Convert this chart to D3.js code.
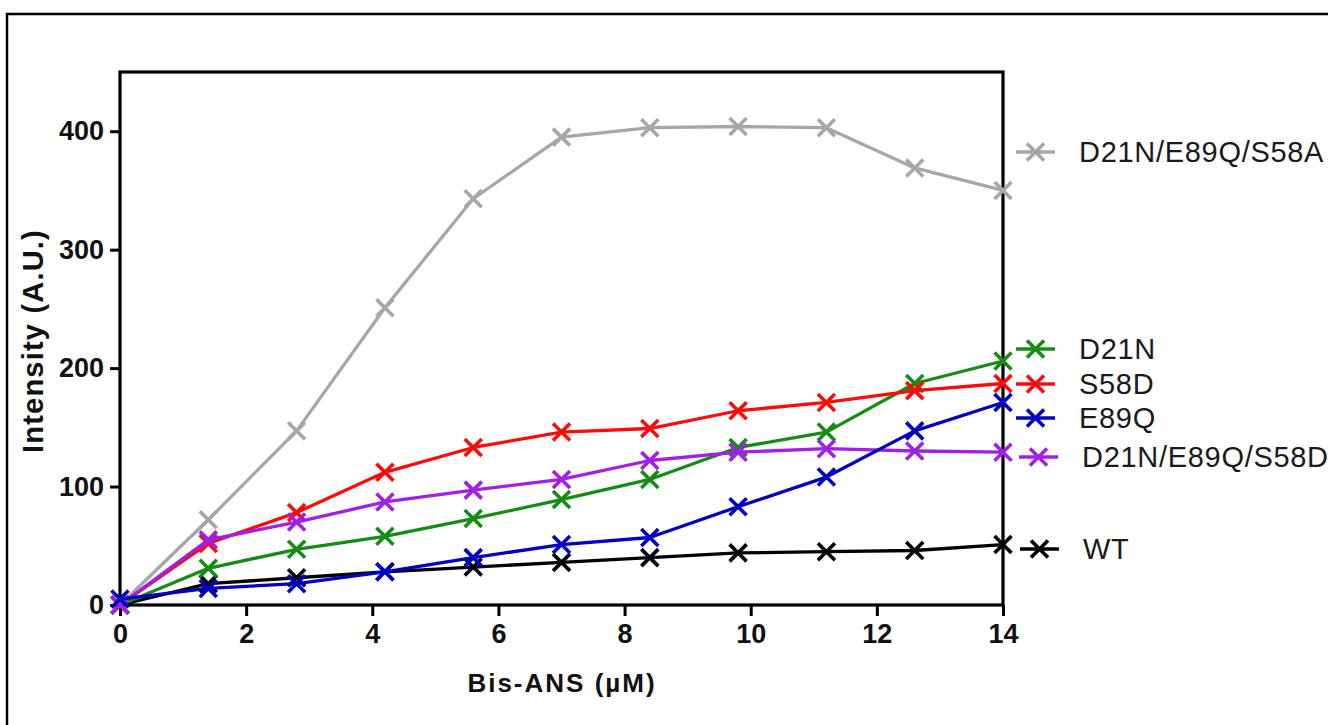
<!DOCTYPE html>
<html>
<head>
<meta charset="utf-8">
<script src="https://cdn.jsdelivr.net/npm/d3@7"></script>
<style>
  html, body { margin: 0; padding: 0; background: #fff; }
  svg { display: block; }
</style>
</head>
<body>
<svg id="chart" width="1328" height="725"></svg>
<script>
// Bis-ANS concentrations (µM)
const concentrations = [0, 1.4, 2.8, 4.2, 5.6, 7, 8.4, 9.8, 11.2, 12.6, 14];

// Fluorescence intensity (A.U.) per variant
const tripleS58A = [0, 72, 147, 251, 343, 395, 403, 404, 403, 369, 350];
const d21n       = [0, 31, 47, 58, 73, 89, 106, 133, 146, 187, 206];
const s58d       = [0, 52, 78, 112, 133, 146, 149, 164, 171, 181, 187];
const e89q       = [5, 14, 18, 28, 40, 51, 57, 83, 108, 147, 171];
const tripleS58D = [0, 55, 70, 87, 97, 106, 122, 129, 132, 130, 129];
const wt         = [0, 18, 23, 28, 32, 36, 40, 44, 45, 46, 51];

const seriesNames = ["D21N/E89Q/S58A", "D21N", "S58D", "E89Q", "D21N/E89Q/S58D", "WT"];
const xTicks = [0, 2, 4, 6, 8, 10, 12, 14];
const yTicks = [0, 100, 200, 300, 400];

const seriesColors = {
  "D21N/E89Q/S58A": "#a7a7a9",
  "D21N": "#168c16",
  "S58D": "#ff0a0a",
  "E89Q": "#0000c4",
  "D21N/E89Q/S58D": "#a11fe6",
  "WT": "#000000"
};
const seriesValues = {
  "D21N/E89Q/S58A": tripleS58A,
  "D21N": d21n,
  "S58D": s58d,
  "E89Q": e89q,
  "D21N/E89Q/S58D": tripleS58D,
  "WT": wt
};
// stacking order of the curves (bottom first)
const drawOrder = ["D21N/E89Q/S58A", "WT", "D21N", "S58D", "D21N/E89Q/S58D", "E89Q"];
// legend rows: vertical position of each entry
const legendRows = [
  { name: "D21N/E89Q/S58A", y: 152, dx: 0 },
  { name: "D21N", y: 349, dx: 0 },
  { name: "S58D", y: 384, dx: 0 },
  { name: "E89Q", y: 418, dx: 0 },
  { name: "D21N/E89Q/S58D", y: 457, dx: 3 },
  { name: "WT", y: 549, dx: 4 }
];

const svg = d3.select("#chart");
const plotLeft = 120, plotRight = 1003, plotTop = 72, plotBottom = 605;

const x = d3.scaleLinear().domain([0, 14]).range([plotLeft, plotRight]);
const y = d3.scaleLinear().domain([0, 450]).range([plotBottom, plotTop]);

// outer frame
svg.append("rect")
  .attr("x", 7).attr("y", 14)
  .attr("width", 1400).attr("height", 800)
  .attr("fill", "none").attr("stroke", "#000").attr("stroke-width", 2.5);

const tickFont = "'Liberation Sans', Arial, sans-serif";

// x axis
const xAxis = svg.append("g")
  .attr("transform", `translate(0,${plotBottom})`)
  .call(d3.axisBottom(x).tickValues(xTicks).tickFormat(d3.format("d")).tickSize(11).tickPadding(8));
// y axis
const yAxis = svg.append("g")
  .attr("transform", `translate(${plotLeft},0)`)
  .call(d3.axisLeft(y).tickValues(yTicks).tickFormat(d3.format("d")).tickSize(10).tickPadding(6));

[xAxis, yAxis].forEach(g => {
  g.select(".domain").remove();
  g.selectAll(".tick line").attr("stroke", "#000").attr("stroke-width", 3);
  g.selectAll(".tick text")
    .attr("fill", "#111")
    .style("font-family", tickFont)
    .style("font-weight", "bold")
    .style("font-size", "27px");
});

// plot box
svg.append("rect")
  .attr("x", plotLeft).attr("y", plotTop)
  .attr("width", plotRight - plotLeft).attr("height", plotBottom - plotTop)
  .attr("fill", "none").attr("stroke", "#000").attr("stroke-width", 3.2);

// axis titles
svg.append("text")
  .attr("x", 562).attr("y", 692)
  .attr("text-anchor", "middle")
  .style("font-family", tickFont).style("font-weight", "bold").style("font-size", "26px")
  .style("letter-spacing", "2px")
  .attr("fill", "#111")
  .text("Bis-ANS (µM)");

svg.append("text")
  .attr("transform", "translate(43,341) rotate(-90)")
  .attr("text-anchor", "middle")
  .style("font-family", tickFont).style("font-weight", "bold").style("font-size", "29px")
  .style("letter-spacing", "1.2px")
  .attr("fill", "#111")
  .text("Intensity (A.U.)");

// cross marker path centred at 0,0
const r = 8.5;
const crossPath = `M${-r},${-r}L${r},${r}M${-r},${r}L${r},${-r}`;

const line = d3.line()
  .x((d, i) => x(concentrations[i]))
  .y(d => y(d));

const plot = svg.append("g");
drawOrder.forEach(name => {
  const vals = seriesValues[name];
  const col = seriesColors[name];
  const g = plot.append("g");
  g.append("path")
    .datum(vals)
    .attr("d", line)
    .attr("fill", "none")
    .attr("stroke", col)
    .attr("stroke-width", 3.3)
    .attr("stroke-linejoin", "round");
  g.selectAll("path.mk")
    .data(vals)
    .join("path")
    .attr("class", "mk")
    .attr("transform", (d, i) => `translate(${x(concentrations[i])},${y(d)})`)
    .attr("d", crossPath)
    .attr("stroke", col)
    .attr("stroke-width", 3.6)
    .attr("fill", "none");
});

// legend
const legend = svg.append("g");
legendRows.forEach(row => {
  const col = seriesColors[row.name];
  const g = legend.append("g").attr("transform", `translate(${1016 + row.dx},${row.y})`);
  g.append("line").attr("x1", 0).attr("x2", 39).attr("y1", 0).attr("y2", 0)
    .attr("stroke", col).attr("stroke-width", 3.3);
  g.append("path").attr("transform", "translate(19.5,0)").attr("d", crossPath)
    .attr("stroke", col).attr("stroke-width", 3.6).attr("fill", "none");
  g.append("text")
    .attr("x", 63).attr("y", 0).attr("dy", "0.36em")
    .style("font-family", tickFont).style("font-size", "29px")
    .style("letter-spacing", "0.7px")
    .attr("fill", "#1a1a1a")
    .text(row.name);
});
</script>
</body>
</html>
